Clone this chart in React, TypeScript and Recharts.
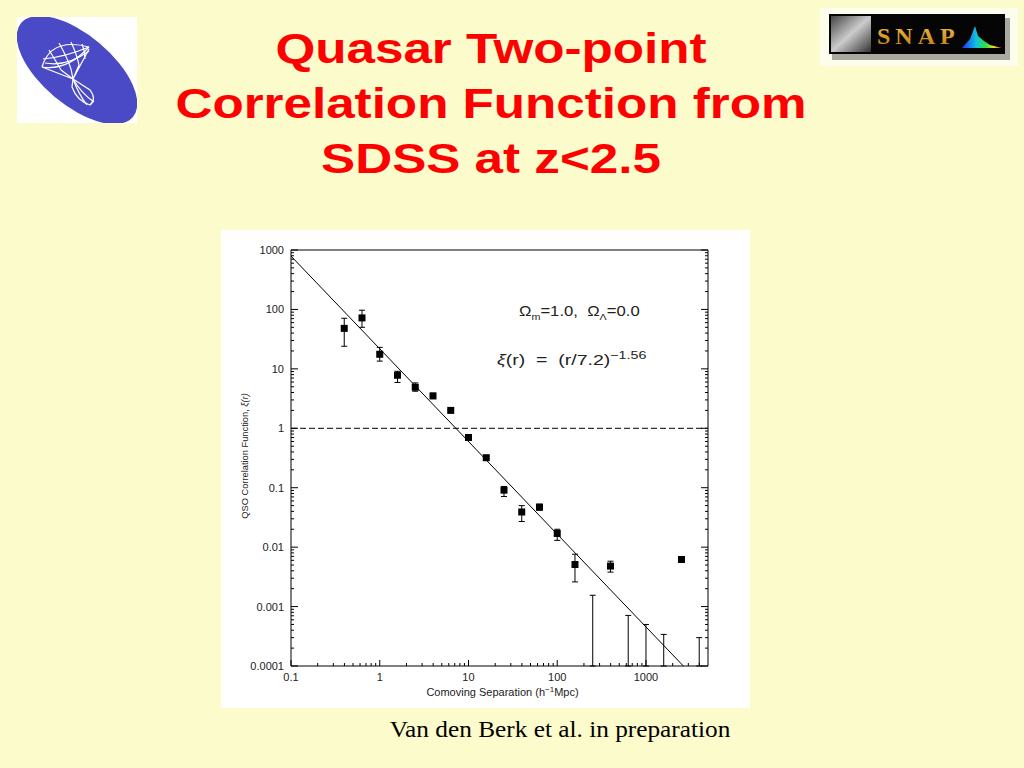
import {
  ErrorBar,
  Label,
  ReferenceLine,
  Scatter,
  ScatterChart,
  XAxis,
  YAxis,
} from "recharts";

const sepBins = [0.398, 0.631, 1.0, 1.585, 2.512, 3.981, 6.31, 10, 15.85, 25.12, 39.81, 63.1, 100, 158.5, 398.1, 2512];
const xiValues = [48, 72, 17.6, 7.8, 4.9, 3.5, 2.0, 0.7, 0.32, 0.091, 0.039, 0.047, 0.017, 0.0051, 0.0048, 0.0062];
const xiLower = [24, 50, 13.5, 5.9, 4.2, 3.2, 2.0, 0.7, 0.31, 0.071, 0.027, 0.042, 0.013, 0.0026, 0.0038, 0.0062];
const xiUpper = [71, 97, 23, 9.1, 5.8, 3.9, 2.0, 0.7, 0.34, 0.105, 0.05, 0.053, 0.02, 0.0076, 0.0058, 0.0062];

// bins that only have an upper error bar
const limitBins = [251.2, 631, 1000, 1585, 3981];
const limitUpper = [0.00155, 0.00071, 0.0005, 0.00034, 0.0003];

// end points of the power-law fit xi = (r/7.2)^-1.56
const fitR = [0.1, 2640];
const fitXi = [790, 0.0001];

const xDomain: [number, number] = [0.1, 5000];
const yDomain: [number, number] = [0.0001, 1000];

const xMajor = [0.1, 1, 10, 100, 1000];
const xLabels = ["0.1", "1", "10", "100", "1000"];
const yMajor = [0.0001, 0.001, 0.01, 0.1, 1, 10, 100, 1000];
const yLabels = ["0.0001", "0.001", "0.01", "0.1", "1", "10", "100", "1000"];
const minorSteps = [2, 3, 4, 5, 6, 7, 8, 9];

const xTicks = [
  ...xMajor,
  ...xMajor.flatMap((d) => minorSteps.map((k) => k * d)).filter((v) => v < 5000),
];
const yTicks = [
  ...yMajor,
  ...yMajor.slice(0, -1).flatMap((d) => minorSteps.map((k) => k * d)),
];

const points = sepBins.map((r, i) => ({
  r,
  xi: xiValues[i],
  err: [xiValues[i] - xiLower[i], xiUpper[i] - xiValues[i]],
}));
const limits = limitBins.map((r, i) => ({
  r,
  xi: limitUpper[i],
  err: [limitUpper[i] - yDomain[0], 0],
}));
const fit = fitR.map((r, i) => ({ r, xi: fitXi[i] }));

const tickFont = { fontFamily: "Liberation Sans, Arial, sans-serif", fontSize: 11, fill: "#222" };

function BottomTick({ x, y, payload }: any) {
  const i = xMajor.indexOf(payload.value);
  return (
    <g>
      <line x1={x} y1={y} x2={x} y2={y - (i >= 0 ? 6 : 3)} stroke="#000" />
      {i >= 0 && (
        <text x={x} y={y + 15} textAnchor="middle" {...tickFont}>
          {xLabels[i]}
        </text>
      )}
    </g>
  );
}

function TopTick({ x, y, payload }: any) {
  const major = xMajor.includes(payload.value);
  return <line x1={x} y1={y} x2={x} y2={y + (major ? 6 : 3)} stroke="#000" />;
}

function LeftTick({ x, y, payload }: any) {
  const i = yMajor.indexOf(payload.value);
  return (
    <g>
      <line x1={x} y1={y} x2={x + (i >= 0 ? 7 : 3)} y2={y} stroke="#000" />
      {i >= 0 && (
        <text x={x - 7} y={y + 4} textAnchor="end" {...tickFont}>
          {yLabels[i]}
        </text>
      )}
    </g>
  );
}

function RightTick({ x, y, payload }: any) {
  const major = yMajor.includes(payload.value);
  return <line x1={x} y1={y} x2={x - (major ? 7 : 3)} y2={y} stroke="#000" />;
}

function XTitle({ viewBox }: any) {
  const cx = viewBox.x + viewBox.width / 2 + 3;
  return (
    <text x={cx} y={viewBox.y + 30} textAnchor="middle" {...tickFont} fontSize={11}>
      Comoving Separation (h
      <tspan dy={-4} fontSize={8}>−1</tspan>
      <tspan dy={4}>Mpc)</tspan>
    </text>
  );
}

function YTitle({ viewBox }: any) {
  const cx = viewBox.x + 24;
  const cy = viewBox.y + viewBox.height / 2 - 2;
  return (
    <text
      x={cx}
      y={cy}
      transform={`rotate(-90 ${cx} ${cy})`}
      textAnchor="middle"
      dominantBaseline="central"
      {...tickFont}
      fontSize={9.3}
    >
      QSO Correlation Function, <tspan fontStyle="italic">ξ(r)</tspan>
    </text>
  );
}

const Square = ({ cx, cy }: any) => <rect x={cx - 3.5} y={cy - 3.5} width={7} height={7} fill="#000" />;
const Empty = () => <g />;

function LeftLogo() {
  return (
    <svg style={{ position: "absolute", left: 17, top: 17 }} width={120} height={106}>
      <rect width={120} height={106} fill="#fff" />
      <ellipse cx={60} cy={53} rx={73} ry={35} transform="rotate(40 60 53)" fill="#4a4ac6" />
      <g fill="none" stroke="#fff" strokeWidth={1.2}>
        <path d="M25 50 Q34 20 72 30" />
        <path d="M25 50 Q50 54 72 30" />
        <path d="M28 46 Q50 50 72 34" />
        <path d="M32 33 Q40 46 44 53" />
        <path d="M42 26 Q50 40 54 52" />
        <path d="M54 25 Q60 38 62 48" />
        <path d="M65 27 Q68 34 68 42" />
        <path d="M26 42 Q48 40 72 30" />
        <path d="M25 50 L56 62 M44 53 L56 62 M54 52 L56 62 M62 48 L56 62 M72 32 L56 62" />
        <path d="M56 62 L55 70 Q60 84 73 88 Q80 82 73 73 Z" />
        <path d="M56 62 Q64 76 77 85" />
        <path d="M56 62 Q62 78 70 88" />
      </g>
    </svg>
  );
}

function SnapLogo() {
  return (
    <svg style={{ position: "absolute", left: 820, top: 8 }} width={198} height={58}>
      <defs>
        <linearGradient id="spec" x1="0" y1="0" x2="1" y2="0">
          <stop offset="0%" stopColor="#2030ff" />
          <stop offset="35%" stopColor="#10c0e0" />
          <stop offset="60%" stopColor="#30e040" />
          <stop offset="80%" stopColor="#f0e020" />
          <stop offset="100%" stopColor="#f03020" />
        </linearGradient>
        <linearGradient id="photo" x1="0" y1="0" x2="1" y2="1">
          <stop offset="0%" stopColor="#444" />
          <stop offset="50%" stopColor="#ccc" />
          <stop offset="100%" stopColor="#333" />
        </linearGradient>
        <linearGradient id="gold" x1="0" y1="0" x2="0" y2="1">
          <stop offset="0%" stopColor="#f0c040" />
          <stop offset="100%" stopColor="#c07818" />
        </linearGradient>
      </defs>
      <rect width={198} height={58} fill="#fdfdee" />
      <rect x={12} y={10} width={178} height={42} fill="#555" opacity={0.5} />
      <rect x={9} y={6} width={176} height={40} fill="#050505" />
      <rect x={11} y={8} width={40} height={36} fill="url(#photo)" />
      <text
        x={57}
        y={36}
        fontFamily="Liberation Serif, serif"
        fontWeight="bold"
        fontSize={24}
        fill="url(#gold)"
        letterSpacing={5}
      >
        SNAP
      </text>
      <path d="M142 40 L150 31 L155 18 L158 28 L164 33 L170 37 L178 39 L182 40 Z" fill="url(#spec)" />
    </svg>
  );
}

export default function App() {
  return (
    <div
      style={{
        position: "absolute",
        left: 0,
        top: 0,
        width: 1024,
        height: 768,
        overflow: "hidden",
        background: "#fbfbcb",
        fontFamily: "Liberation Sans, Arial, sans-serif",
      }}
    >
      <LeftLogo />
      <SnapLogo />
      <div
        style={{
          position: "absolute",
          left: 91,
          top: 21,
          width: 800,
          textAlign: "center",
          fontWeight: "bold",
          fontSize: 43,
          lineHeight: "55px",
          color: "#ff0000",
          transform: "scaleX(1.19)",
          transformOrigin: "center",
        }}
      >
        <div>Quasar Two-point</div>
        <div>Correlation Function from</div>
        <div>SDSS at z&lt;2.5</div>
      </div>

      <div style={{ position: "absolute", left: 221, top: 230, width: 529, height: 478, background: "#fff" }}>
        <ScatterChart width={529} height={478} margin={{ top: 0, right: 0, bottom: 0, left: 0 }}>
          <XAxis
            xAxisId="b"
            type="number"
            dataKey="r"
            scale="log"
            domain={xDomain}
            allowDataOverflow
            ticks={xTicks}
            interval={0}
            tickSize={0}
            tickMargin={0}
            tickLine={false}
            tick={BottomTick}
            height={42}
            axisLine={{ stroke: "#000" }}
          >
            <Label content={XTitle} />
          </XAxis>
          <XAxis
            xAxisId="t"
            orientation="top"
            type="number"
            scale="log"
            domain={xDomain}
            allowDataOverflow
            ticks={xTicks}
            interval={0}
            tickSize={0}
            tickMargin={0}
            tickLine={false}
            tick={TopTick}
            height={20}
            axisLine={{ stroke: "#000" }}
          />
          <YAxis
            yAxisId="l"
            type="number"
            dataKey="xi"
            scale="log"
            domain={yDomain}
            allowDataOverflow
            ticks={yTicks}
            interval={0}
            tickSize={0}
            tickMargin={0}
            tickLine={false}
            tick={LeftTick}
            width={70}
            axisLine={{ stroke: "#000" }}
          >
            <Label content={YTitle} />
          </YAxis>
          <YAxis
            yAxisId="r"
            orientation="right"
            type="number"
            scale="log"
            domain={yDomain}
            allowDataOverflow
            ticks={yTicks}
            interval={0}
            tickSize={0}
            tickMargin={0}
            tickLine={false}
            tick={RightTick}
            width={42}
            axisLine={{ stroke: "#000" }}
          />
          <ReferenceLine xAxisId="b" yAxisId="l" y={1} stroke="#000" strokeDasharray="6 3" />
          <Scatter
            xAxisId="b"
            yAxisId="l"
            data={fit}
            line={{ stroke: "#000", strokeWidth: 1 }}
            shape={Empty}
            isAnimationActive={false}
          />
          <Scatter xAxisId="b" yAxisId="l" data={points} shape={Square} isAnimationActive={false}>
            <ErrorBar dataKey="err" direction="y" width={3} stroke="#000" strokeWidth={1} isAnimationActive={false} />
          </Scatter>
          <Scatter xAxisId="b" yAxisId="l" data={limits} shape={Empty} isAnimationActive={false}>
            <ErrorBar dataKey="err" direction="y" width={3} stroke="#000" strokeWidth={1} isAnimationActive={false} />
          </Scatter>
        </ScatterChart>

        <div
          style={{
            position: "absolute",
            left: 298,
            top: 73,
            fontSize: 14,
            color: "#222",
            whiteSpace: "nowrap",
            transform: "scaleX(1.19)",
            transformOrigin: "left center",
          }}
        >
          Ω<sub style={{ fontSize: 9 }}>m</sub>=1.0,&nbsp; Ω<sub style={{ fontSize: 9 }}>Λ</sub>=0.0
        </div>
        <div
          style={{
            position: "absolute",
            left: 276,
            top: 119,
            fontSize: 15,
            color: "#222",
            whiteSpace: "nowrap",
            transform: "scaleX(1.3)",
            transformOrigin: "left center",
          }}
        >
          <i>ξ</i>(r) &nbsp;=&nbsp; (r/7.2)<sup style={{ fontSize: 11 }}>−1.56</sup>
        </div>
      </div>

      <div
        style={{
          position: "absolute",
          left: 360,
          top: 717,
          width: 400,
          textAlign: "center",
          fontFamily: "Liberation Serif, Times New Roman, serif",
          fontSize: 23,
          color: "#000",
          transform: "scaleX(1.1)",
          transformOrigin: "center",
        }}
      >
        Van den Berk et al. in preparation
      </div>
    </div>
  );
}
